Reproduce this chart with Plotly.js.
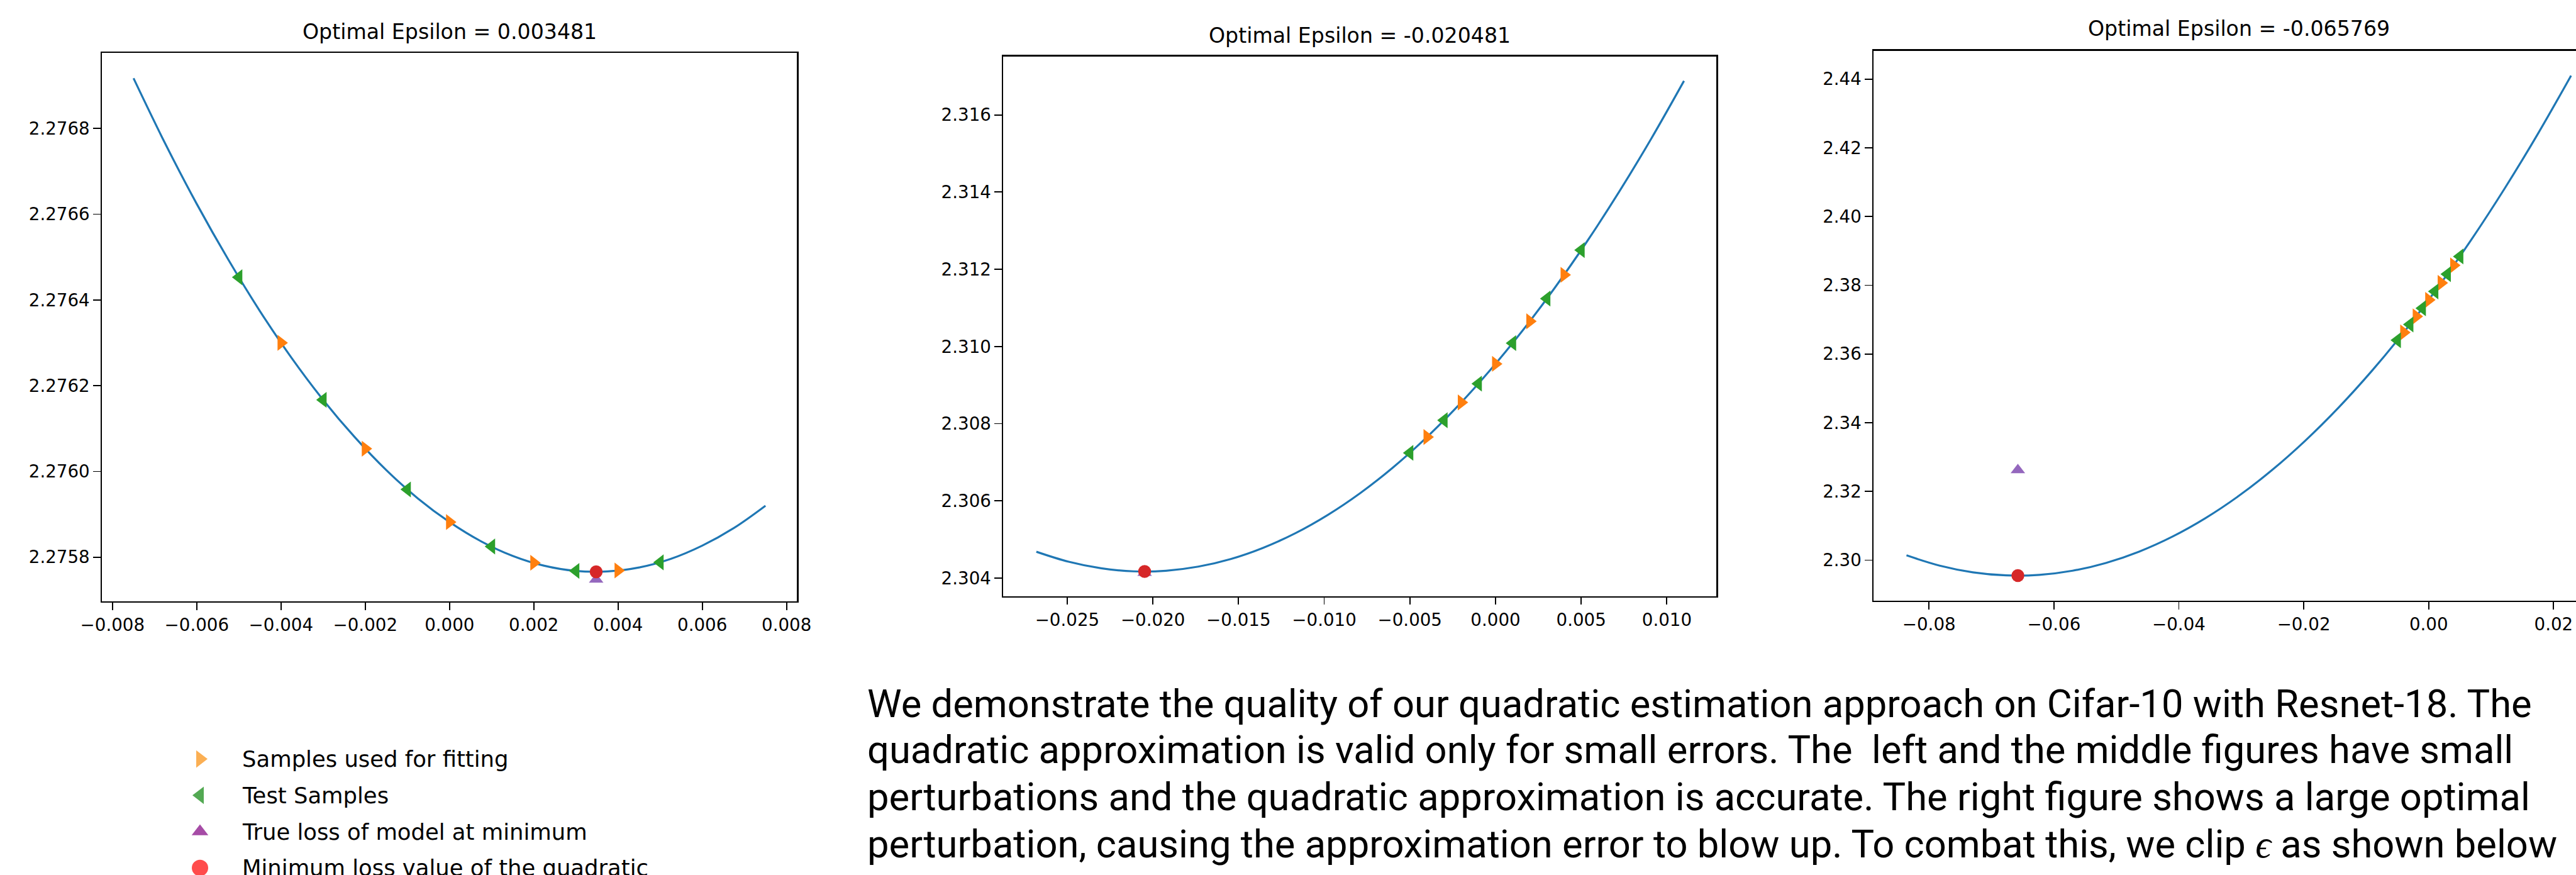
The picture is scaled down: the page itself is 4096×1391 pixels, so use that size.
<!DOCTYPE html>
<html><head><meta charset="utf-8">
<script src="https://cdn.plot.ly/plotly-3.0.1.min.js"></script>
<style>html,body{margin:0;padding:0;overflow:hidden;background:#fff;width:4096px;height:1391px}#chart{width:4200px;height:1391px}</style>
</head><body><div id="chart"></div><script>
// ---------- data ----------
const panelTitles = ['Optimal Epsilon = 0.003481', 'Optimal Epsilon = -0.020481', 'Optimal Epsilon = -0.065769'];

const leftCurveX = [-0.0075,-0.00675,-0.006,-0.00525,-0.0045,-0.00375,-0.003,-0.00225,-0.0015,-0.00075,0,0.00075,0.0015,0.00225,0.003,0.00375,0.0045,0.00525,0.006,0.00675,0.0075];
const leftCurveY = [2.276917,2.276765,2.276624,2.276494,2.276374,2.276265,2.276167,2.276080,2.276003,2.275937,2.275882,2.275837,2.275803,2.275780,2.275768,2.275767,2.275776,2.275796,2.275827,2.275868,2.275920];
const midCurveX = [-0.0268,-0.02491,-0.02302,-0.02113,-0.01924,-0.01735,-0.01546,-0.01357,-0.01168,-0.00979,-0.0079,-0.00601,-0.00412,-0.00223,-0.00034,0.00155,0.00344,0.00533,0.00722,0.00911,0.0110];
const midCurveY = [2.304682,2.304422,2.304253,2.304175,2.304190,2.304296,2.304493,2.304783,2.305163,2.305636,2.306200,2.306856,2.307603,2.308442,2.309373,2.310395,2.311509,2.312714,2.314011,2.315400,2.316880];
const rightCurveX = [-0.0836,-0.07828,-0.07296,-0.06764,-0.06232,-0.057,-0.05168,-0.04636,-0.04104,-0.03572,-0.0304,-0.02508,-0.01976,-0.01444,-0.00912,-0.0038,0.00152,0.00684,0.01216,0.01748,0.0228];
const rightCurveY = [2.301397,2.298403,2.296459,2.295565,2.295721,2.296926,2.299182,2.302487,2.306843,2.312248,2.318703,2.326208,2.334763,2.344368,2.355022,2.366728,2.379482,2.393287,2.408142,2.424046,2.441000];

const fitX = [-0.004,-0.002,0.000,0.002,0.004];
const testX = [-0.005,-0.003,-0.001,0.001,0.003,0.005];
const leftFitY  = [2.276300,2.276053,2.275882,2.275787,2.275769];
const leftTestY = [2.276453,2.276167,2.275958,2.275825,2.275768,2.275788];
const midFitY   = [2.307654,2.308550,2.309550,2.310652,2.311856];
const midTestY  = [2.307244,2.308089,2.309037,2.310088,2.311241,2.312497];
const rightFitY = [2.36627,2.37093,2.37573,2.38068,2.38579];
const rightTestY= [2.36400,2.36858,2.37331,2.37819,2.38322,2.38839];

const optimalEps = [0.003481, -0.020481, -0.065769];
const trueLossAtMin = [2.275748, 2.30414, 2.32622];
const quadMinLoss = [2.275766, 2.30417, 2.2955];

const leftXTicks = [-0.008,-0.006,-0.004,-0.002,0,0.002,0.004,0.006,0.008];
const leftXText  = ['\u22120.008','\u22120.006','\u22120.004','\u22120.002','0.000','0.002','0.004','0.006','0.008'];
const leftYTicks = [2.2758,2.2760,2.2762,2.2764,2.2766,2.2768];
const leftYText  = ['2.2758','2.2760','2.2762','2.2764','2.2766','2.2768'];
const midXTicks  = [-0.025,-0.020,-0.015,-0.010,-0.005,0,0.005,0.010];
const midXText   = ['\u22120.025','\u22120.020','\u22120.015','\u22120.010','\u22120.005','0.000','0.005','0.010'];
const midYTicks  = [2.304,2.306,2.308,2.310,2.312,2.314,2.316];
const midYText   = ['2.304','2.306','2.308','2.310','2.312','2.314','2.316'];
const rightXTicks= [-0.08,-0.06,-0.04,-0.02,0,0.02];
const rightXText = ['\u22120.08','\u22120.06','\u22120.04','\u22120.02','0.00','0.02'];
const rightYTicks= [2.30,2.32,2.34,2.36,2.38,2.40,2.42,2.44];
const rightYText = ['2.30','2.32','2.34','2.36','2.38','2.40','2.42','2.44'];

const legendLabels = ['Samples used for fitting','Test Samples','True loss of model at minimum','Minimum loss value of the quadratic'];
const legendSymbols = ['triangle-right','triangle-left','triangle-up','circle'];
const legendColors = ['#f98d0a','#0a840a','#800080','#ff0000'];

const paragraphLines = [
 'We demonstrate the quality of our quadratic estimation approach on Cifar-10 with Resnet-18. The',
 'quadratic approximation is valid only for small errors. The\u00a0 left and the middle figures have small',
 'perturbations and the quadratic approximation is accurate. The right figure shows a large optimal',
 'perturbation, causing the approximation error to blow up. To combat this, we clip <i>\u03f5</i> as shown below'
];

// ---------- layout geometry (px in the 4096x1391 window) ----------
const W = 4200, H = 1391;
const frames = [
  {l:162.1, r:1267.4, t:84.2, b:956.0, xr:[-0.00825,0.00825], yr:[2.275697,2.276976]},
  {l:1595.3, r:2729.4, t:89.6, b:947.5, xr:[-0.02873,0.01290], yr:[2.303535,2.317516]},
  {l:2979.3, r:4141.0, t:80.5, b:954.8, xr:[-0.08885,0.02812], yr:[2.288225,2.448275]}
];
const tickSets = [
  [leftXTicks,leftXText,leftYTicks,leftYText],
  [midXTicks,midXText,midYTicks,midYText],
  [rightXTicks,rightXText,rightYTicks,rightYText]
];
const curves = [[leftCurveX,leftCurveY],[midCurveX,midCurveY],[rightCurveX,rightCurveY]];
const fits = [leftFitY, midFitY, rightFitY];
const tests = [leftTestY, midTestY, rightTestY];

const C = {blue:'#1f77b4', orange:'#ff7f0e', green:'#2ca02c', purple:'#9467bd', red:'#d62728'};
const tickFont = {family:'DejaVu Sans', size:27.7, color:'#000'};

const traces = [];
const layout = {
  width: W, height: H, autosize:false,
  margin:{l:0,r:0,t:0,b:0,pad:0},
  paper_bgcolor:'#fff', plot_bgcolor:'#fff',
  showlegend:false,
  annotations:[]
};

frames.forEach((f,i)=>{
  const n = i===0 ? '' : String(i+1);
  const xa = 'x'+n, ya = 'y'+n;
  const common = {showline:true, mirror:true, linecolor:'#000', linewidth:2.2, ticks:'outside', ticklen:11.7,
    tickwidth:1.8, tickcolor:'#000', showgrid:false, zeroline:false, tickfont:tickFont, tickmode:'array', fixedrange:true};
  layout['xaxis'+n] = Object.assign({}, common, {domain:[f.l/W, f.r/W], range:f.xr, anchor:ya,
    tickvals:tickSets[i][0], ticktext:tickSets[i][1]});
  layout['yaxis'+n] = Object.assign({}, common, {domain:[1-f.b/H, 1-f.t/H], range:f.yr, anchor:xa,
    tickvals:tickSets[i][2], ticktext:tickSets[i][3]});
  traces.push({x:curves[i][0], y:curves[i][1], xaxis:xa, yaxis:ya, mode:'lines', type:'scatter',
    line:{color:C.blue, width:3.2, shape:'spline', smoothing:1}, hoverinfo:'skip'});
  traces.push({x:fitX, y:fits[i], xaxis:xa, yaxis:ya, mode:'markers', type:'scatter',
    marker:{symbol:'triangle-right', size:22, color:C.orange, line:{width:0}}});
  traces.push({x:testX, y:tests[i], xaxis:xa, yaxis:ya, mode:'markers', type:'scatter',
    marker:{symbol:'triangle-left', size:22, color:C.green, line:{width:0}}});
  traces.push({x:[optimalEps[i]], y:[trueLossAtMin[i]], xaxis:xa, yaxis:ya, mode:'markers', type:'scatter',
    marker:{symbol:'triangle-up', size:20, color:C.purple, line:{width:0}}});
  traces.push({x:[optimalEps[i]], y:[quadMinLoss[i]], xaxis:xa, yaxis:ya, mode:'markers', type:'scatter',
    marker:{symbol:'circle', size:20.5, color:C.red, line:{width:0}}});
  const titleY = [50.5, 56.3, 45.4][i];
  layout.annotations.push({text:panelTitles[i], xref:'paper', yref:'paper', x:(f.l+f.r)/2/W, y:1-titleY/H,
    xanchor:'center', yanchor:'middle', showarrow:false, font:{family:'DejaVu Sans', size:33.2, color:'#000'}});
});

// ---------- legend (drawn on a hidden axis pair) ----------
const legTop = 1177.75, rowH = 57.7, legX = 318.0;
layout.xaxis4 = {domain:[(legX-20)/W,(legX+20)/W], range:[-1,1], visible:false, fixedrange:true, anchor:'y4'};
layout.yaxis4 = {domain:[0, 1-legTop/H], range:[(H-legTop)/rowH-0.5, -0.5], type:'category',
  categoryorder:'array', categoryarray:legendLabels, visible:false, fixedrange:true, anchor:'x4'};
traces.push({x:legendLabels.map(()=>0), y:legendLabels, xaxis:'x4', yaxis:'y4', mode:'markers', type:'scatter',
  marker:{symbol:legendSymbols, color:legendColors, size:[24,24,23,26], line:{width:0}}, cliponaxis:false});
legendLabels.forEach(lbl=>{
  layout.annotations.push({text:lbl, xref:'x4', yref:'y4', x:0, y:lbl, xshift:65.3, xanchor:'left', yanchor:'middle',
    showarrow:false, font:{family:'DejaVu Sans', size:35.4, color:'#000'}});
});

// ---------- paragraph ----------
const paraX = 1377, paraF = 61.5;
const baselines = [1139.8, 1213.4, 1287.9, 1362.7];
paragraphLines.forEach((t,k)=>{
  layout.annotations.push({text:t, xref:'paper', yref:'paper', x:paraX/W, y:1-(baselines[k]-0.342*paraF)/H,
    xanchor:'left', yanchor:'middle', align:'left', showarrow:false,
    font:{family:'Roboto', size:paraF, color:'#000'}});
});

Plotly.newPlot('chart', traces, layout, {displayModeBar:false, staticPlot:true});
</script></body></html>
